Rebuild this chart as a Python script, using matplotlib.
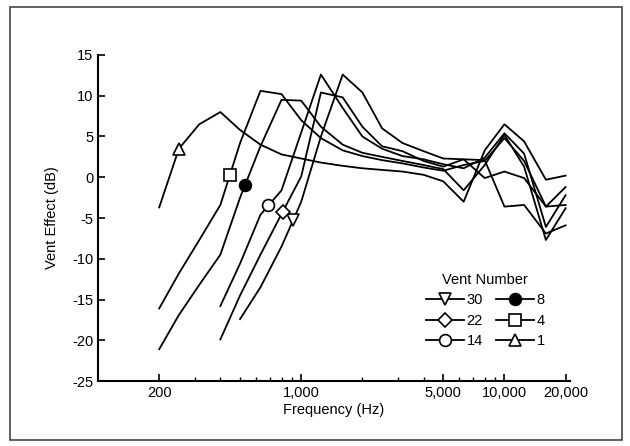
import numpy as np
import matplotlib
matplotlib.use("Agg")
import matplotlib.pyplot as plt
from matplotlib.patches import Rectangle

plt.rcParams['font.family'] = ['Liberation Sans', 'DejaVu Sans']
plt.rcParams['axes.unicode_minus'] = False

nan = np.nan
freq = [200, 250, 315, 400, 500, 630, 800, 1000, 1250, 1600, 2000, 2500,
        3150, 4000, 5000, 6300, 8000, 10000, 12500, 16000, 20000]

vent1 = [-3.7, 3.5, 6.5, 8.0, 5.8, 4.0, 2.8, 2.3, 1.8, 1.4, 1.1, 0.9,
         0.7, 0.3, -0.5, -3.0, 3.3, 6.5, 4.4, -0.3, 0.2]
vent4 = [-16.1, -11.8, -7.7, -3.4, 4.2, 10.6, 10.2, 7.0, 4.8, 3.3, 2.6, 2.1,
         1.7, 1.2, 0.8, 1.5, 2.0, 4.8, 2.0, -3.6, -1.2]
vent8 = [-21.1, -16.9, -13.2, -9.5, -2.5, 3.8, 9.5, 9.4, 6.2, 4.0, 3.0, 2.5,
         2.0, 1.5, 1.0, -1.6, 1.5, 5.2, 1.3, -7.7, -3.8]
vent14 = [nan, nan, nan, -15.8, -10.6, -4.6, -1.6, 5.5, 12.6, 8.5, 5.0, 3.5,
          2.6, 2.2, 1.6, 1.1, 2.4, 5.4, 2.9, -6.1, -2.2]
vent22 = [nan, nan, nan, -19.9, -14.5, -9.5, -4.5, 0.1, 10.4, 9.8, 6.2, 3.8,
          3.2, 2.0, 1.3, 2.2, -0.1, 0.7, -0.1, -3.6, -3.4]
vent30 = [nan, nan, nan, nan, -17.4, -13.5, -8.5, -3.0, 5.0, 12.6, 10.4, 6.0,
          4.2, 3.2, 2.3, 2.2, 2.1, -3.6, -3.4, -6.9, -5.9]

# where each curve's symbol sits (Hz)
names = ['30', '22', '14', '8', '4', '1']
curves = [vent30, vent22, vent14, vent8, vent4, vent1]
marker_freq = [915, 810, 690, 530, 445, 250]
markers = ['v', 'D', 'o', 'o', 's', '^']
filled = [False, False, False, True, False, False]

xticks = [200, 1000, 5000, 10000, 20000]
xticklabels = ['200', '1,000', '5,000', '10,000', '20,000']

fig = plt.figure(figsize=(6.3, 4.46), dpi=100)
ax = fig.add_axes([0.1556, 0.1457, 0.749, 0.731])

f = np.array(freq, dtype=float)
for name, vals, mf, m, fl in zip(names, curves, marker_freq, markers, filled):
    v = np.array(vals, dtype=float)
    ok = ~np.isnan(v)
    ax.plot(f[ok], v[ok], color='black', lw=1.3, zorder=2)
    my = np.interp(np.log10(mf), np.log10(f[ok]), v[ok])
    ms = 7 if m == 'D' else 8.5
    ax.plot([mf], [my], marker=m, ms=ms, mec='black', mew=1.2,
            mfc='black' if fl else 'white', ls='none', zorder=3)
    # legend proxy
    ax.plot([], [], color='black', lw=1.3, marker=m, ms=ms, mec='black', mew=1.2,
            mfc='black' if fl else 'white', label=name)

ax.set_xscale('log')
ax.set_xlim(100, 21000)
ax.set_ylim(-25, 15)
ax.set_yticks(np.arange(-25, 16, 5))
ax.set_xticks(xticks)
ax.set_xticklabels(xticklabels)
ax.xaxis.set_minor_locator(matplotlib.ticker.LogLocator(subs=np.arange(2, 10)))
ax.xaxis.set_minor_formatter(matplotlib.ticker.NullFormatter())
ax.tick_params(direction='in', length=5, width=1.2, labelsize=10.5)
ax.tick_params(which='minor', direction='in', length=3, width=1)
for s in ['top', 'right']:
    ax.spines[s].set_visible(False)
for s in ['left', 'bottom']:
    ax.spines[s].set_linewidth(1.5)

ax.set_xlabel('Frequency (Hz)', fontsize=10.5, labelpad=2)
ax.set_ylabel('Vent Effect (dB)', fontsize=10.5, labelpad=9)

handles, labels = ax.get_legend_handles_labels()
leg = ax.legend(handles, labels, ncol=2, title='Vent Number', frameon=False,
                loc='lower right', bbox_to_anchor=(0.975, 0.06), fontsize=10.5,
                title_fontsize=10.5, handlelength=2.6, handletextpad=0.2,
                columnspacing=0.9, labelspacing=0.45)

fig.patches.append(Rectangle((0.016, 0.0135), 0.971, 0.970, transform=fig.transFigure,
                             fill=False, edgecolor='#444444', lw=1.2))

fig.savefig('out.png', dpi=100)
